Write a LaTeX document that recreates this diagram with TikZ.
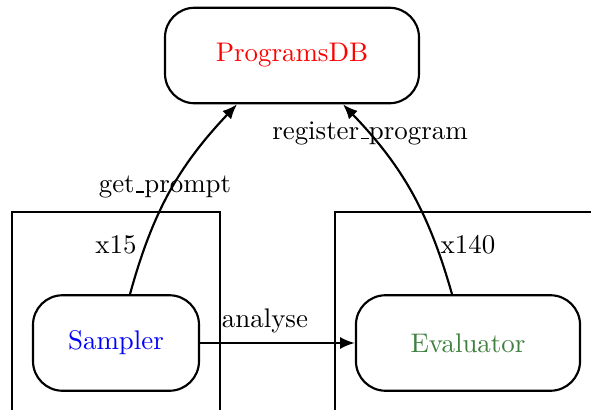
\documentclass[tikz,border=0pt]{standalone}
\usetikzlibrary{calc,arrows.meta}
\definecolor{evalgreen}{RGB}{64,128,64}
% narrow rule-style underscore, as in classic OT1 text
\newcommand\usc{\leavevmode\kern.06em\vbox{\hrule width.3em}}
\begin{document}
\begin{tikzpicture}[x=0.3717pt,y=-0.3717pt,
  proc/.style={draw,line width=0.8pt,rounded corners=11pt,inner sep=0pt,minimum height=35.5pt},
  link/.style={line width=0.8pt,-{Latex[length=5.5pt,width=4.5pt]}},
  frame/.style={line width=0.8pt},
  lbl/.style={inner sep=0pt}]
  \useasboundingbox (0,0) rectangle (591,410);

  % worker pools
  \draw[frame] (12,412) -- (12,212) -- (220,212) -- (220,412);
  \draw[frame] (335,412) -- (335,212) -- (593,212);

  % processes
  \node[proc,minimum width=94.4pt,text=red] (db) at (292,55.5) {ProgramsDB};
  \node[proc,minimum width=61.7pt,text=blue] (sampler) at (116,343) {Sampler};
  \node[proc,minimum width=83.3pt,text=evalgreen] (evaluator) at (468,343) {Evaluator};

  % pool sizes
  \node[lbl] (n15) at (116,245) {x15};
  \node[lbl] (n140) at (468,245) {x140};

  % message flows
  \draw[link] ($(sampler.north)+(14,0)$) to[bend left=14] ($(db.south)+(-55,0)$);
  \draw[link] ($(evaluator.north)+(-16,0)$) to[bend right=14] ($(db.south)+(51,0)$);
  \draw[link] (sampler.east) -- (evaluator.west);

  \node[lbl] (gp) at (165,187) {get\usc prompt};
  \node[lbl] (rp) at (370,133) {register\usc program};
  \node[lbl] (an) at (265,321) {analyse};
\end{tikzpicture}
\end{document}
